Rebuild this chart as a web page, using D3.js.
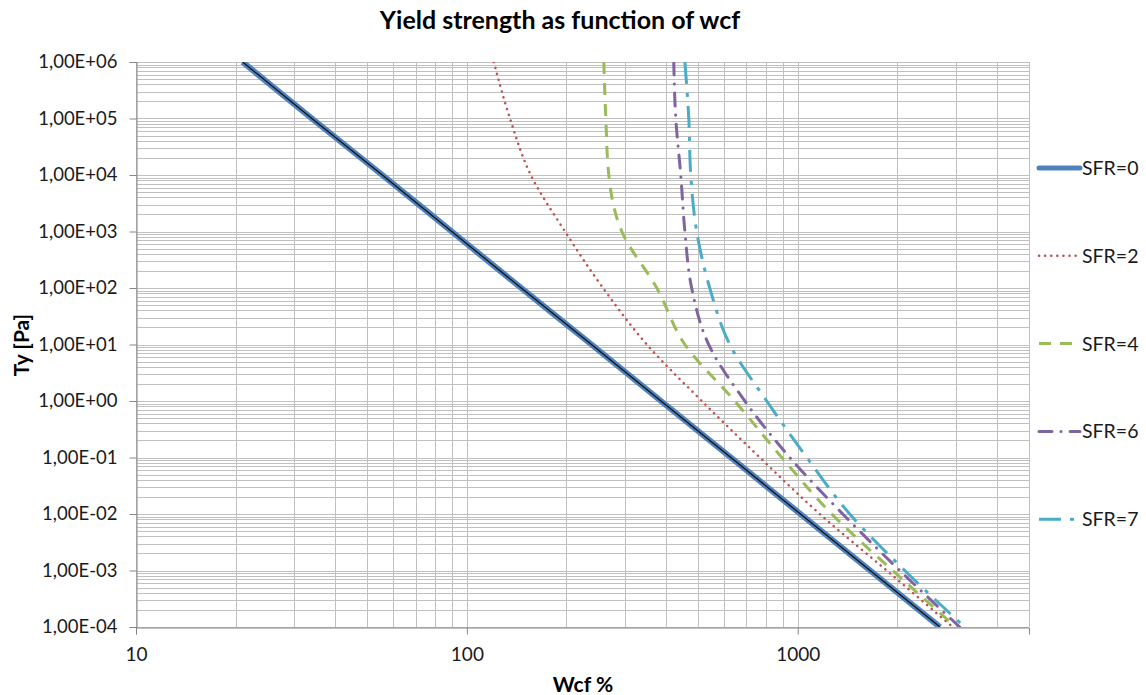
<!DOCTYPE html>
<html>
<head>
<meta charset="utf-8">
<script src="https://cdn.jsdelivr.net/npm/d3@7"></script>
<style>
  body { margin: 0; background: #fff; }
  svg { font-family: Lato, "Open Sans", sans-serif; }
</style>
</head>
<body>
<svg id="chart" width="1146" height="695"></svg>
<script>
const tyLevels = [1e6, 1e5, 1e4, 1e3, 1e2, 1e1, 1e0, 1e-1, 1e-2, 1e-3, 1e-4];

// wcf (%) read at each Ty level
const wcfSFR0 = [21, 34, 55.5, 90, 146, 238, 386, 628, 1019, 1655, 2690];
const wcfSFR2 = [120.6, 135, 156, 198, 258, 350, 513, 768, 1166, 1857, 2940];
const wcfSFR4 = [259.4, 263, 268.5, 294, 375, 456, 645, 895, 1267, 1936, 3002];
const wcfSFR6 = [422, 428, 443, 456, 478, 538, 692, 946, 1368, 2034, 3087];
const wcfSFR7 = [456, 468.5, 475, 495, 542, 623, 806, 1065, 1436, 2106, 3196];

const seriesNames = ["SFR=0", "SFR=2", "SFR=4", "SFR=6", "SFR=7"];
const seriesWcf = [wcfSFR0, wcfSFR2, wcfSFR4, wcfSFR6, wcfSFR7];

const yTickLabels = ["1,00E-04", "1,00E-03", "1,00E-02", "1,00E-01", "1,00E+00",
                     "1,00E+01", "1,00E+02", "1,00E+03", "1,00E+04", "1,00E+05", "1,00E+06"];
const xTickValues = [10, 100, 1000];

// line styles per series
const styles = [
  { color: "#4F81BD", width: 6, dash: null },
  { color: "#C0504D", width: 2.5, dash: "0.1,6" },
  { color: "#9BBB59", width: 3, dash: "12,9" },
  { color: "#8064A2", width: 3, dash: "13,9,0.1,9" },
  { color: "#4BACC6", width: 3, dash: "22,9,4,9" }
];

const svg = d3.select("#chart");
const plotLeft = 136, plotRight = 1029, plotTop = 62, plotBottom = 627;

const x = d3.scaleLog().domain([10, 5000]).range([plotLeft, plotRight]);
const y = d3.scaleLog().domain([1e-4, 1e6]).range([plotBottom, plotTop]);

// gridlines (major + minor)
const xGrid = [];
for (let d = 10; d <= 1000; d *= 10)
  for (let m = 1; m <= 9; m++) if (d * m <= 5000) xGrid.push(d * m);
xGrid.push(5000);
const yGrid = [];
for (let e = -4; e < 6; e++)
  for (let m = 1; m <= 9; m++) yGrid.push(m * Math.pow(10, e));
yGrid.push(1e6);

const grid = svg.append("g").attr("stroke", "#c0c0c0").attr("stroke-width", 1);
grid.selectAll("line.gx").data(xGrid).join("line")
  .attr("x1", d => Math.round(x(d)) + 0.5).attr("x2", d => Math.round(x(d)) + 0.5)
  .attr("y1", plotTop).attr("y2", plotBottom);
grid.selectAll("line.gy").data(yGrid).join("line")
  .attr("y1", d => Math.round(y(d)) + 0.5).attr("y2", d => Math.round(y(d)) + 0.5)
  .attr("x1", plotLeft).attr("x2", plotRight);

// axes
const yAxis = d3.axisLeft(y)
  .tickValues(tyLevels.slice().reverse())
  .tickFormat((d, i) => yTickLabels[i])
  .tickSize(7).tickPadding(12);
const gy = svg.append("g").attr("transform", `translate(${plotLeft + 0.5},0)`).call(yAxis);
gy.select(".domain").attr("stroke", "#868686");
gy.selectAll(".tick line").attr("stroke", "#868686");
gy.selectAll("text").attr("font-size", 18.5).attr("fill", "#1a1a1a")
  .attr("font-family", "Lato, sans-serif");

const xAxis = d3.axisBottom(x).tickValues(xTickValues).tickFormat(d3.format("d"))
  .tickSize(7).tickPadding(13);
const gx = svg.append("g").attr("transform", `translate(0,${plotBottom + 0.5})`).call(xAxis);
gx.select(".domain").attr("stroke", "#868686");
gx.selectAll(".tick line").attr("stroke", "#868686");
gx.selectAll("text").attr("font-size", 19).attr("fill", "#1a1a1a")
  .attr("font-family", "Lato, sans-serif");

// right border
svg.append("line").attr("x1", plotRight + 0.5).attr("x2", plotRight + 0.5)
  .attr("y1", plotTop).attr("y2", plotBottom).attr("stroke", "#c0c0c0");

// curves
svg.append("clipPath").attr("id", "plotclip").append("rect")
  .attr("x", plotLeft).attr("y", plotTop)
  .attr("width", plotRight - plotLeft).attr("height", plotBottom - plotTop);

const line = d3.line()
  .x(d => x(d[0])).y(d => y(d[1]))
  .curve(d3.curveMonotoneY);

const plot = svg.append("g").attr("clip-path", "url(#plotclip)");
seriesWcf.forEach((wcf, i) => {
  const pts = wcf.map((w, k) => [w, tyLevels[k]]);
  const s = styles[i];
  plot.append("path").datum(pts)
    .attr("d", line)
    .attr("fill", "none")
    .attr("stroke", s.color)
    .attr("stroke-width", s.width)
    .attr("stroke-dasharray", s.dash)
    .attr("stroke-linecap", i === 1 || i === 3 ? "round" : "butt");
  if (i === 0) {
    plot.append("path").datum(pts)
      .attr("d", line).attr("fill", "none")
      .attr("stroke", "#111").attr("stroke-width", 1.2);
  }
});

// legend
const legend = svg.append("g");
seriesNames.forEach((name, i) => {
  const ly = 168 + i * 87.8;
  const s = styles[i];
  legend.append("line")
    .attr("x1", 1039).attr("x2", 1080).attr("y1", ly).attr("y2", ly)
    .attr("stroke", s.color).attr("stroke-width", i === 0 ? 5 : s.width)
    .attr("stroke-dasharray", s.dash)
    .attr("stroke-linecap", i === 0 || i === 1 || i === 3 ? "round" : "butt");
  legend.append("text").attr("x", 1082).attr("y", ly + 7)
    .attr("font-size", 19.5).attr("fill", "#1a1a1a").text(name);
});

// titles
svg.append("text").attr("x", 560).attr("y", 29).attr("text-anchor", "middle")
  .attr("font-size", 25).attr("font-weight", "bold")
  .text("Yield strength as function of wcf");
svg.append("text").attr("x", 583).attr("y", 692).attr("text-anchor", "middle")
  .attr("font-size", 21).attr("font-weight", "bold").text("Wcf %");
svg.append("text").attr("transform", "translate(29,345) rotate(-90)")
  .attr("text-anchor", "middle")
  .attr("font-size", 21).attr("font-weight", "bold").text("Ty [Pa]");
</script>
</body>
</html>
